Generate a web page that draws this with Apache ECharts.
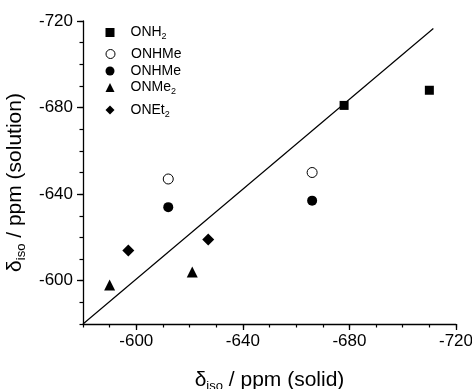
<!DOCTYPE html>
<html><head><meta charset="utf-8">
<script src="https://cdn.jsdelivr.net/npm/echarts@6/dist/echarts.min.js"></script>
<style>html,body{margin:0;padding:0;background:#fff}#c{width:472px;height:389px}</style>
</head><body><div id="c"></div>
<script>
// ---- data ----
const onh2 = [[-678, -681], [-710, -688]];
const onhmeOpen = [[-612, -647], [-666, -650]];
const onhmeFilled = [[-612, -634], [-666, -637]];
const onme2 = [[-590, -598], [-621, -604]];
const onet2 = [[-597, -614], [-627, -619]];
const lineX = [-580, -711.5];
const lineY = [-580, -716.5];
const axisMin = -720, axisMax = -580;
const majorStep = 40, minorStep = 10;
const legendLabels = {
  'ONH2': '{n|ONH}{s|2}',
  'ONHMe (open)': '{n|ONHMe}',
  'ONHMe': '{n|ONHMe}',
  'ONMe2': '{n|ONMe}{s|2}',
  'ONEt2': '{n|ONEt}{s|2}'
};
const legendCenters = [30, 51.5, 68.5, 85, 107.5];

const FF = 'Liberation Sans, Arial, sans-serif';
const chart = echarts.init(document.getElementById('c'), null, {renderer: 'canvas'});

const seriesDefs = [
  {name: 'ONH2', data: onh2, symbol: 'rect', size: 9, fill: '#000'},
  {name: 'ONHMe (open)', data: onhmeOpen, symbol: 'circle', size: 10, fill: '#fff'},
  {name: 'ONHMe', data: onhmeFilled, symbol: 'circle', size: 10, fill: '#000'},
  {name: 'ONMe2', data: onme2, symbol: 'triangle', size: 11, fill: '#000'},
  {name: 'ONEt2', data: onet2, symbol: 'diamond', size: 12, fill: '#000'}
];

const gridBox = {left: 83, right: 16, top: 21, bottom: 65, containLabel: false, outerBoundsMode: 'none'};
const labelFmt = v => (v === axisMax ? '' : String(v));

const legendRich = {
  n: {fontSize: 14, fontFamily: FF, color: '#000'},
  s: {fontSize: 9, fontFamily: FF, color: '#000', padding: [9, 0, 0, 0]}
};
const titleRich = {s: {fontSize: 13, fontFamily: FF, color: '#000', padding: [12, 0, 0, 0]}};

const option = {
  animation: false,
  backgroundColor: '#fff',
  grid: [Object.assign({}, gridBox), Object.assign({}, gridBox)],
  xAxis: [
    {
      type: 'value', gridIndex: 0, min: axisMin, max: axisMax, interval: majorStep, inverse: true,
      position: 'bottom',
      name: 'δ{s|iso} / ppm (solid)', nameLocation: 'middle', nameGap: 44,
      nameTextStyle: {fontSize: 21, fontFamily: FF, color: '#000', rich: titleRich},
      axisLine: {show: true, onZero: false, lineStyle: {color: '#000', width: 1.3}},
      axisTick: {show: true, inside: false, length: 6, lineStyle: {color: '#000', width: 1.3}},
      axisLabel: {fontSize: 17, fontFamily: FF, color: '#000', margin: 9, formatter: labelFmt, showMaxLabel: false},
      splitLine: {show: false}
    },
    {
      type: 'value', gridIndex: 1, min: axisMin, max: axisMax, interval: minorStep, inverse: true,
      position: 'bottom',
      axisLine: {show: false, onZero: false},
      axisTick: {show: true, inside: false, length: 3.5, lineStyle: {color: '#000', width: 1.2}},
      axisLabel: {show: false},
      splitLine: {show: false}
    }
  ],
  yAxis: [
    {
      type: 'value', gridIndex: 0, min: axisMin, max: axisMax, interval: majorStep, inverse: true,
      position: 'left',
      name: 'δ{s|iso} / ppm (solution)', nameLocation: 'middle', nameGap: 51, nameRotate: 90,
      nameTextStyle: {fontSize: 21, fontFamily: FF, color: '#000', padding: [0, 20, 0, 0], rich: titleRich},
      axisLine: {show: true, onZero: false, lineStyle: {color: '#000', width: 1.3}},
      axisTick: {show: true, inside: false, length: 6, lineStyle: {color: '#000', width: 1.3}},
      axisLabel: {fontSize: 17, fontFamily: FF, color: '#000', margin: 10, formatter: labelFmt, showMaxLabel: false},
      splitLine: {show: false}
    },
    {
      type: 'value', gridIndex: 1, min: axisMin, max: axisMax, interval: minorStep, inverse: true,
      position: 'left',
      axisLine: {show: false, onZero: false},
      axisTick: {show: true, inside: false, length: 3.5, lineStyle: {color: '#000', width: 1.2}},
      axisLabel: {show: false},
      splitLine: {show: false}
    }
  ],
  legend: seriesDefs.map((d, i) => ({
    data: [{name: d.name, icon: d.symbol,
      itemStyle: {color: d.fill, borderColor: '#000', borderWidth: d.fill === '#fff' ? 1 : 0}}],
    orient: 'vertical',
    left: 105.5,
    top: legendCenters[i] - 4.5,
    padding: 0,
    itemWidth: 9, itemHeight: 9,
    selectedMode: false,
    formatter: name => legendLabels[name],
    textStyle: {fontSize: 14, fontFamily: FF, color: '#000', padding: [0, 0, 0, 11], rich: legendRich}
  })),
  series: seriesDefs.map(d => ({
    type: 'scatter', name: d.name, xAxisIndex: 0, yAxisIndex: 0,
    data: d.data, symbol: d.symbol, symbolSize: d.size,
    itemStyle: {color: d.fill, borderColor: '#000', borderWidth: d.fill === '#fff' ? 1 : 0, opacity: 1},
    emphasis: {disabled: true}, z: 3
  })).concat([{
    type: 'line', name: 'fit', xAxisIndex: 0, yAxisIndex: 0,
    data: lineX.map((x, i) => [x, lineY[i]]),
    showSymbol: false, symbol: 'none', silent: true,
    lineStyle: {color: '#000', width: 1.2}, z: 2
  }])
};
chart.setOption(option);
</script>
</body></html>
